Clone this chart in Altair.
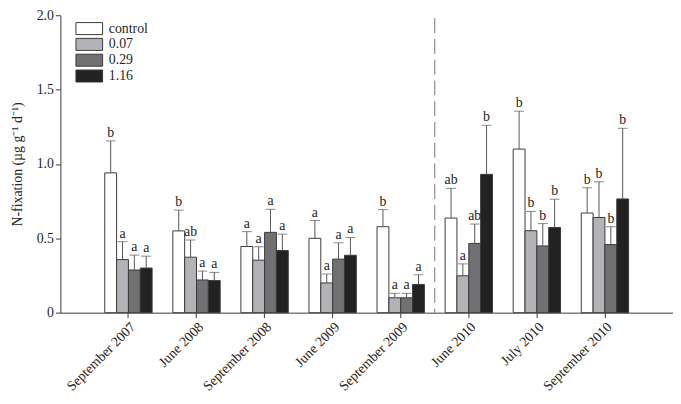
import altair as alt
import pandas as pd

dates = ["September 2007", "June 2008", "September 2008", "June 2009",
         "September 2009", "June 2010", "July 2010", "September 2010"]
treatments = ["control", "0.07", "0.29", "1.16"]
colors = ["#ffffff", "#b2b3b6", "#717174", "#222222"]

means = {
    "control": [0.94, 0.55, 0.445, 0.50, 0.578, 0.636, 1.10, 0.67],
    "0.07":    [0.357, 0.373, 0.353, 0.20, 0.10, 0.248, 0.551, 0.64],
    "0.29":    [0.287, 0.22, 0.54, 0.36, 0.10, 0.466, 0.449, 0.458],
    "1.16":    [0.30, 0.216, 0.418, 0.386, 0.19, 0.93, 0.573, 0.765],
}
ses = {
    "control": [0.215, 0.14, 0.10, 0.12, 0.115, 0.20, 0.255, 0.17],
    "0.07":    [0.12, 0.115, 0.09, 0.06, 0.03, 0.08, 0.13, 0.24],
    "0.29":    [0.10, 0.06, 0.155, 0.11, 0.03, 0.13, 0.15, 0.12],
    "1.16":    [0.08, 0.055, 0.11, 0.12, 0.065, 0.33, 0.19, 0.475],
}
letters = {
    "control": ["b", "b", "a", "a", "b", "ab", "b", "b"],
    "0.07":    ["a", "ab", "a", "a", "a", "a", "b", "b"],
    "0.29":    ["a", "a", "a", "a", "a", "ab", "b", "b"],
    "1.16":    ["a", "a", "a", "a", "a", "b", "b", "b"],
}
divider_at = ["June 2010"]

rows = []
for t in treatments:
    for i, d in enumerate(dates):
        rows.append(dict(date=d, treatment=t, mean=means[t][i],
                         upper=means[t][i] + ses[t][i], letter=letters[t][i]))
df = pd.DataFrame(rows)

serif = "Liberation Serif"
ink = "#262626"
axis_col = "#3a3a3a"

xscale = alt.Scale(domain=dates, paddingInner=0, paddingOuter=0.5)
x = alt.X("date:N", scale=xscale,
          axis=alt.Axis(title=None, labelAngle=315, labelFont=serif, labelFontSize=14,
                        labelColor=ink, tickColor=axis_col, domainColor=axis_col,
                        tickSize=5, labelPadding=2, grid=False))
xo = alt.XOffset("treatment:N", scale=alt.Scale(domain=treatments, paddingInner=0, paddingOuter=0.875))
yscale = alt.Scale(domain=[0, 2])
y = alt.Y("mean:Q", scale=yscale,
          axis=alt.Axis(values=[0, 0.5, 1, 1.5, 2],
                        labelExpr="datum.value == 0 ? '0' : format(datum.value, '.1f')",
                        title="N-fixation (µg g⁻¹ d⁻¹)", titleFont=serif, titleFontSize=14,
                        titleFontWeight="normal", titleColor=ink, titlePadding=12,
                        labelFont=serif, labelFontSize=14, labelColor=ink,
                        tickColor=axis_col, domainColor=axis_col, tickSize=5,
                        labelPadding=2, grid=False))

base = alt.Chart(df)

bars = base.mark_bar(stroke=axis_col, strokeWidth=1).encode(
    x=x, xOffset=xo, y=y,
    fill=alt.Fill("treatment:N", scale=alt.Scale(domain=treatments, range=colors),
                  legend=alt.Legend(title=None, orient="none", legendX=15, legendY=6,
                                    symbolType="M-1,-0.9H3V0.9H-1Z", symbolSize=182,
                                    symbolStrokeColor=axis_col, symbolStrokeWidth=1,
                                    labelFont=serif, labelFontSize=14, labelColor=ink,
                                    labelOffset=19, rowPadding=-1, padding=0)),
)

err = base.mark_rule(color="#555555", strokeWidth=1).encode(
    x=x, xOffset=xo, y=alt.Y("mean:Q", scale=yscale), y2="upper:Q")

caps = base.mark_tick(color="#555555", thickness=1, size=10, orient="horizontal").encode(
    x=x, xOffset=xo, y=alt.Y("upper:Q", scale=yscale))

labels = base.mark_text(baseline="bottom", dy=-1, font=serif, fontSize=14, color=ink).encode(
    x=x, xOffset=xo, y=alt.Y("upper:Q", scale=yscale), text="letter:N")

divider = alt.Chart(pd.DataFrame({"date": divider_at})).mark_rule(
    color="#777777", strokeWidth=1, strokeDash=[15, 6]).encode(
    x=alt.X("date:N", scale=xscale, bandPosition=0),
    y=alt.Y(datum=1.98, scale=yscale), y2=alt.Y2(datum=0))

chart = alt.layer(bars, err, caps, labels, divider).properties(
    width=620, height=301,
    autosize=alt.AutoSizeParams(type="none"),
    padding={"left": 53, "top": 5, "right": 0, "bottom": 83},
).configure_view(stroke=None)

chart.save("out.html", embed_options={"renderer": "svg", "actions": False})
